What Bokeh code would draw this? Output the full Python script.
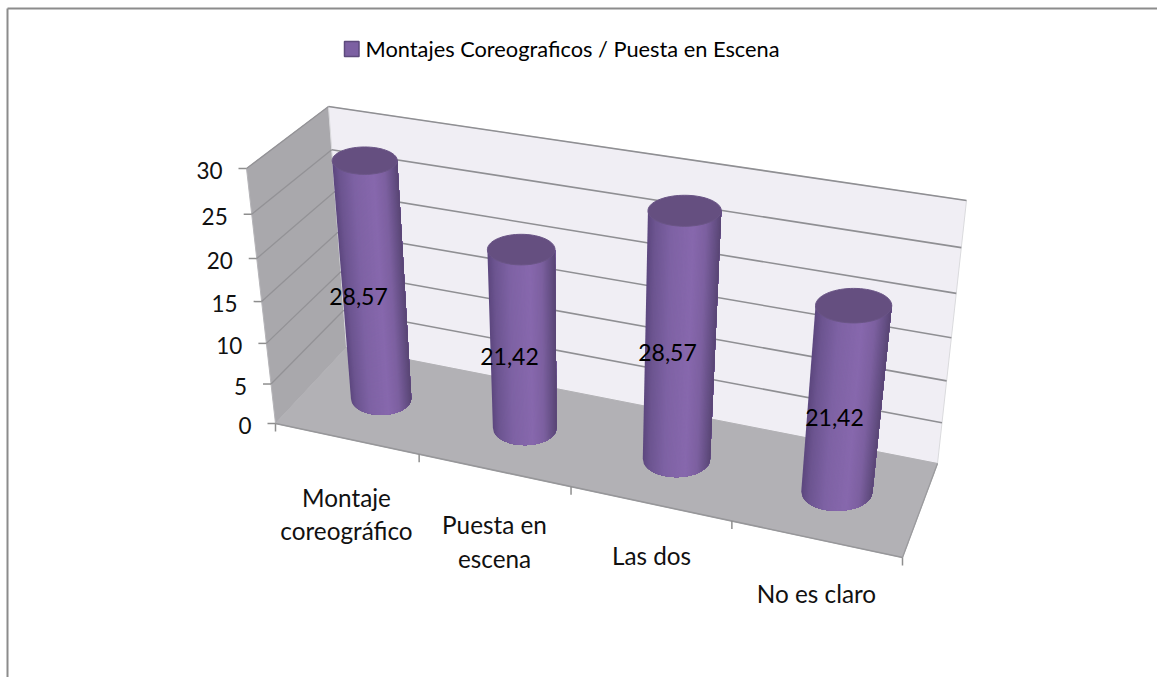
import numpy as np
from bokeh.plotting import figure
from bokeh.models import Range1d
from bokeh.core.properties import value
from bokeh.embed import file_html
from bokeh.resources import INLINE

# ---- data ----
categories = ["Montaje\ncoreográfico", "Puesta en\nescena", "Las dos", "No es claro"]
values = [28.57, 21.42, 28.57, 21.42]
value_labels = ["28,57", "21,42", "28,57", "21,42"]
y_ticks = [0, 5, 10, 15, 20, 25, 30]
legend_label = "Montajes Coreograficos / Puesta en Escena"

# ---- layout ----
W, H = 1157, 677
FONT = "Lato"
FLOOR = [(275, 423), (902, 557), (937, 463), (346, 347)]   # front-l, front-r, back-r, back-l
TOP = [(246, 168), (938, 280), (966, 200), (328, 106)]
Y_MAX = 30.0
PERSP = 0.916
cat_label_pos = [(346, 497, 33), (494, 524, 34), (651, 555, 0), (816, 593, 0)]
val_label_pos = [(358, 296), (509, 356), (667, 352), (834, 417)]


def homography(quad):
    src = [(0, 0), (1, 0), (1, 1), (0, 1)]
    A, b = [], []
    for (u, v), (x, y) in zip(src, quad):
        A.append([u, v, 1, 0, 0, 0, -u * x, -v * x]); b.append(x)
        A.append([0, 0, 0, u, v, 1, -u * y, -v * y]); b.append(y)
    h = np.linalg.solve(np.array(A, float), np.array(b, float))
    return np.append(h, 1).reshape(3, 3)


HF, HT = homography(FLOOR), homography(TOP)


def app(M, u, v):
    r = M @ np.array([u, v, 1.0])
    return r[:2] / r[2]


def proj(u, depth, val):
    """u along the category axis 0..1, depth 0 front..1 back, val in axis units -> pixels"""
    w = val / Y_MAX
    w = PERSP * w / (1 + (PERSP - 1) * w)
    return (1 - w) * app(HF, u, depth) + w * app(HT, u, depth)


p = figure(width=W, height=H, output_backend="svg", toolbar_location=None,
           x_range=Range1d(0, W), y_range=Range1d(H, 0), min_border=0)
p.axis.visible = False
p.grid.visible = False
p.outline_line_color = None
p.background_fill_color = "white"
p.border_fill_color = "white"


def poly(pts, **kw):
    p.patch([q[0] for q in pts], [q[1] for q in pts], **kw)


def line(a, b, color, width=1.5):
    p.line([a[0], b[0]], [a[1], b[1]], line_color=color, line_width=width)


# walls and floor
poly([proj(0, 0, 0), proj(0, 1, 0), proj(0, 1, Y_MAX), proj(0, 0, Y_MAX)],
     fill_color="#A9A8AC", line_color="#B5B4B8", line_width=1)
poly([proj(0, 1, 0), proj(1, 1, 0), proj(1, 1, Y_MAX), proj(0, 1, Y_MAX)],
     fill_color="#F0EEF4", line_color="#DADADD", line_width=1)
poly([proj(0, 0, 0), proj(1, 0, 0), proj(1, 1, 0), proj(0, 1, 0)],
     fill_color="#B2B1B5", line_color="#B2B1B5", line_width=1)

for t in y_ticks[1:]:
    a, b, c = proj(0, 0, t), proj(0, 1, t), proj(1, 1, t)
    line(a, b, "#939296", 1.3)
    line(b, c, "#8F8F93", 1.6)
for t in y_ticks:
    a = proj(0, 0, t)
    line((a[0] - 8, a[1]), a, "#8E8E8E", 1.5)
    p.text([a[0] - 24], [a[1] + 2], text=[str(t)], text_font=value(FONT), text_font_size="22.5px",
           text_color="#111111", text_align="right", text_baseline="middle")
line(proj(0, 0, 0), proj(1, 0, 0), "#97979A", 1.6)
line(proj(1, 0, 0), proj(1, 1, 0), "#9B9B9E", 1.3)
for i in range(len(categories) + 1):
    a = proj(i / len(categories), 0, 0)
    line(a, (a[0], a[1] + 8), "#8E8E8E", 1.5)


def shade(s):
    """s in -1..1 across the cylinder"""
    stops_s = [-1.0, -0.8, -0.35, 0.25, 0.6, 0.85, 1.0]
    c = np.array([[0x5C, 0x47, 0x7E], [0x6C, 0x54, 0x90], [0x7E, 0x62, 0xA4], [0x87, 0x68, 0xAD],
                  [0x7C, 0x60, 0xA0], [0x66, 0x50, 0x86], [0x58, 0x45, 0x74]], float)
    rgb = [np.interp(s, stops_s, c[:, k]) for k in range(3)]
    return "#%02X%02X%02X" % tuple(int(round(v)) for v in rgb)


def radii(u, val):
    e = 0.05
    dx = abs(proj(u + e, 0.5, val)[0] - proj(u - e, 0.5, val)[0])
    dy = abs(proj(u, 0.7, val)[1] - proj(u, 0.3, val)[1])
    return 0.054 * dx / (2 * e), 0.53 * dy


n = len(categories)
S = np.linspace(-1, 1, 61)
TH = np.linspace(0, 2 * np.pi, 73)
for i, v in enumerate(values):
    u = (i + 0.5) / n
    b, t = proj(u, 0.5, 0), proj(u, 0.5, v)
    rxb, ryb = radii(u, 0)
    rxt, ryt = radii(u, v)
    for k in range(len(S) - 1):
        # each band reaches to the right edge and the next band paints over it
        rest = S[k:]
        xs = [t[0] + rxt * rest[0], t[0] + rxt] + list(b[0] + rxb * rest[::-1])
        ys = [t[1], t[1]] + list(b[1] + ryb * np.sqrt(np.clip(1 - rest[::-1] ** 2, 0, 1)))
        c = shade((S[k] + S[k + 1]) / 2)
        p.patch(xs, ys, fill_color=c, line_color=None)
    p.patch(t[0] + rxt * np.cos(TH), t[1] + ryt * np.sin(TH), fill_color="#654F80", line_color="#6A5586", line_width=1)

for txt, (x, y) in zip(value_labels, val_label_pos):
    p.text([x], [y], text=[txt], text_font=value(FONT), text_font_size="23px", text_color="black",
           text_align="center", text_baseline="middle")

for cat, (x, y, dy) in zip(categories, cat_label_pos):
    for j, part in enumerate(cat.split("\n")):
        p.text([x], [y + j * dy], text=[part], text_font=value(FONT), text_font_size="24.3px",
               text_color="#111111", text_align="center", text_baseline="middle")

# legend
p.quad(left=[344], right=[358.5], top=[41], bottom=[56], fill_color="#7C60A2", line_color="#5D4A7C", line_width=1.5)
p.text([365], [48], text=[legend_label], text_font=value(FONT), text_font_size="21.8px", text_color="black",
       text_align="left", text_baseline="middle")

# picture frame
p.line([7, 7], [677, 8], line_color="#8C8C8C", line_width=2)
p.line([7, 1157], [8, 8], line_color="#8C8C8C", line_width=2)

open("out.html", "w").write(file_html(p, INLINE))
